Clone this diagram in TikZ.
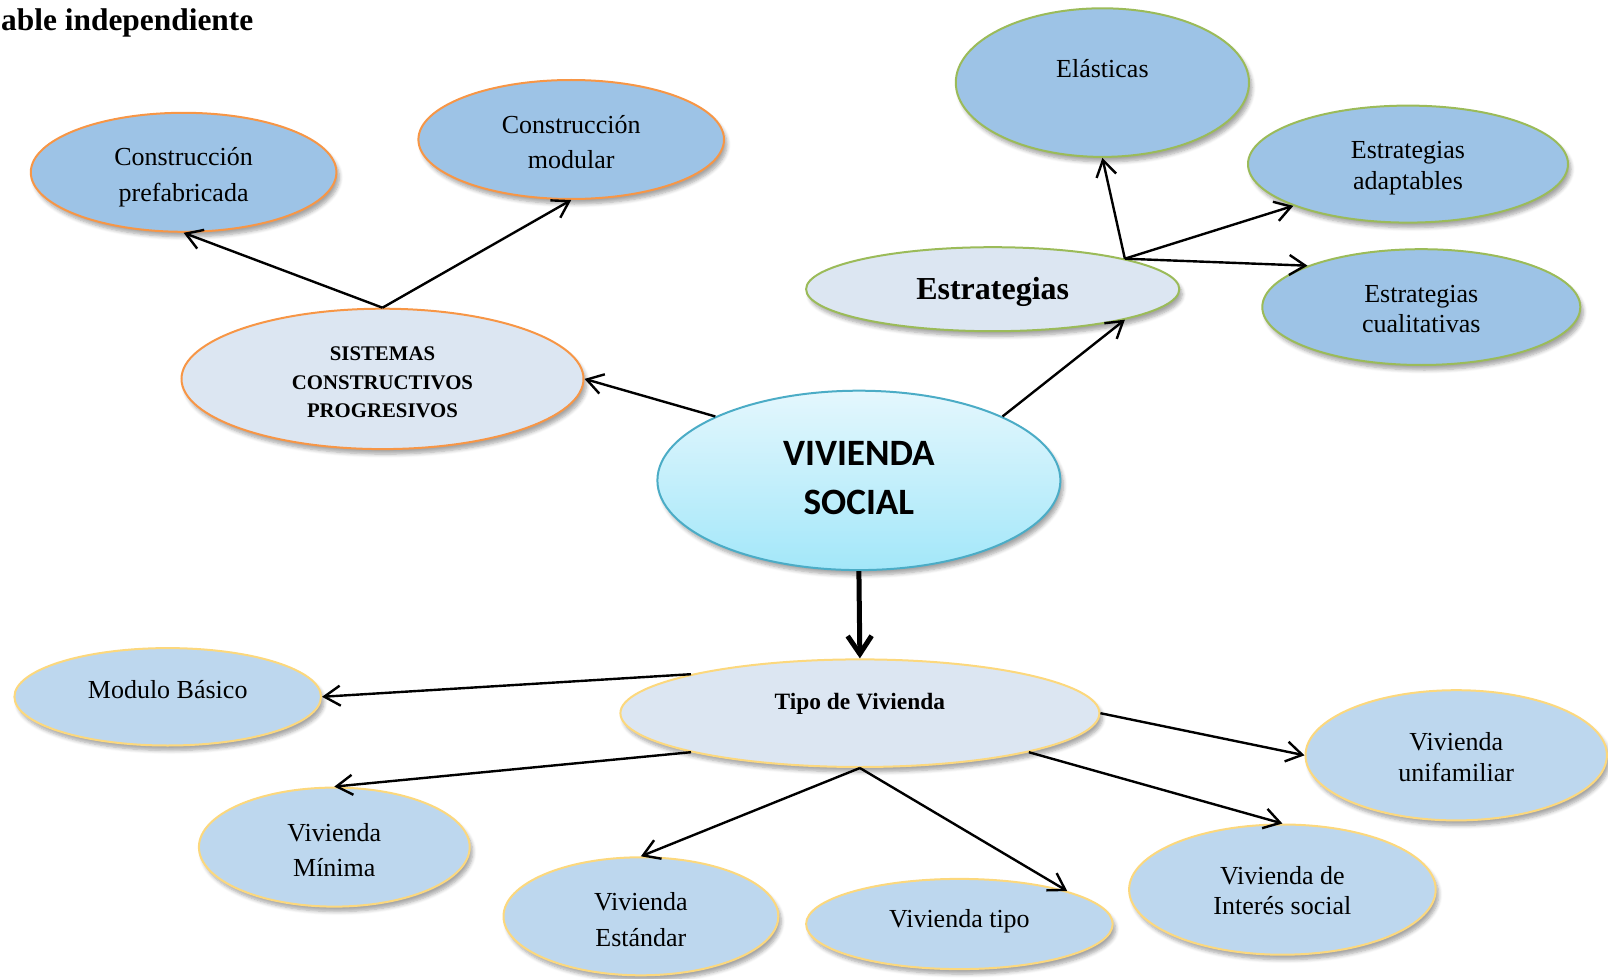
\documentclass[tikz,border=0pt]{standalone}
\usepackage{fontspec}
\setmainfont{Liberation Serif}
\newfontfamily\calibrifont{Carlito}
\usetikzlibrary{shapes.geometric,arrows.meta,shadows.blur}
\definecolor{bordeNaranja}{RGB}{247,150,70}
\definecolor{bordeVerde}{RGB}{155,187,89}
\definecolor{bordeOro}{RGB}{252,216,125}
\definecolor{bordeCian}{RGB}{75,172,198}
\definecolor{azulOscuro}{RGB}{157,195,230}
\definecolor{azulClaro}{RGB}{220,230,242}
\definecolor{azulMedio}{RGB}{189,215,238}
\definecolor{cianArriba}{RGB}{228,247,253}
\definecolor{cianAbajo}{RGB}{163,231,249}
\tikzset{
  elipse/.style={ellipse,inner sep=0pt,line width=1pt,
    blur shadow={shadow xshift=1.5pt,shadow yshift=-2.5pt,shadow blur steps=6,shadow opacity=35}},
  naranja/.style={elipse,draw=bordeNaranja,fill=azulOscuro},
  naranjaCl/.style={elipse,draw=bordeNaranja,fill=azulClaro},
  verde/.style={elipse,draw=bordeVerde,fill=azulOscuro},
  verdeCl/.style={elipse,draw=bordeVerde,fill=azulClaro},
  oro/.style={elipse,draw=bordeOro,fill=azulMedio},
  oroCl/.style={elipse,draw=bordeOro,fill=azulClaro},
  txt/.style={align=center,font=\fontsize{13}{17.9}\selectfont},
  txtb/.style={align=center,font=\fontsize{13}{15.4}\selectfont},
}
\begin{document}
\begin{tikzpicture}[x=0.5pt,y=-0.5pt,line width=1.2pt,>={Straight Barb[length=8pt,width=10pt]}]
\useasboundingbox (0,0) rectangle (1608,979);

% Title (cut at the left border)
\node[anchor=base west,inner sep=0pt,font=\fontsize{15.7}{18}\bfseries\selectfont] (titulo) at (0,31) {able independiente};

% Centre
\node[elipse,draw=bordeCian,top color=cianArriba,bottom color=cianAbajo,
  minimum width=201.5pt,minimum height=89.7pt] (vs) at (858.9,480.4) {};
\node[align=center,font=\calibrifont\fontsize{18.6}{24.6}\bfseries\selectfont] (vs-t) at ([yshift=1pt]vs.center) {VIVIENDA\\SOCIAL};

% Sistemas constructivos progresivos
\node[naranjaCl,minimum width=201pt,minimum height=70.2pt] (sis) at (382.5,378.9) {};
\node[align=center,font=\fontsize{10.4}{14.3}\bfseries\selectfont] (sis-t) at ([yshift=-1.8pt]sis.center) {SISTEMAS\\CONSTRUCTIVOS\\PROGRESIVOS};
\node[naranja,minimum width=152.8pt,minimum height=59.5pt] (pref) at (183.6,172.3) {};
\node[txt] (pref-t) at ([yshift=-2.3pt]pref.center) {Construcción\\prefabricada};
\node[naranja,minimum width=152.8pt,minimum height=59.5pt] (mod) at (571.2,139.5) {};
\node[txt] (mod-t) at ([yshift=-1.3pt]mod.center) {Construcción\\modular};
\draw[->] (sis.north) to (pref.south);
\draw[->] (sis.north) to (mod.south);
\draw[->] (vs.156) to (sis.east);

% Estrategias
\node[verdeCl,minimum width=186.6pt,minimum height=42pt] (est) at (992.7,289.2) {};
\node[font=\fontsize{16}{18}\bfseries\selectfont] (est-t) at ([yshift=-1.5pt]est.center) {Estrategias};
\node[verde,minimum width=146.6pt,minimum height=74.3pt] (elas) at (1102.4,82.6) {};
\node[txt] (elas-t) at ([yshift=7pt]elas.center) {Elásticas};
\node[verde,minimum width=160pt,minimum height=58.5pt] (adap) at (1408,164.1) {};
\node[txtb] (adap-t) at ([yshift=-2pt]adap.center) {Estrategias\\adaptables};
\node[verde,minimum width=159pt,minimum height=57.9pt] (cual) at (1421.3,307.1) {};
\node[txtb] (cual-t) at ([yshift=-1pt]cual.center) {Estrategias\\cualitativas};
\draw[->] (vs.24) to (est.-13);
\draw[->] (est.13) to (elas.south);
\draw[->] (est.13) to (adap.200);
\draw[->] (est.13) to (cual.160);

% Tipo de vivienda
\node[oroCl,minimum width=239.5pt,minimum height=53.8pt] (tipo) at (859.9,713.2) {};
\node[font=\fontsize{11.7}{14}\bfseries\selectfont] (tipo-t) at ([yshift=4.5pt]tipo.center) {Tipo de Vivienda};
\draw[->,line width=2.5pt,{Straight Barb[length=9pt,width=12pt]}-] (tipo.north) to (vs.south);

\node[oro,minimum width=153.3pt,minimum height=48.7pt] (modb) at (167.7,696.8) {};
\node[txt] (modb-t) at ([yshift=3.5pt]modb.center) {Modulo Básico};
\node[oro,minimum width=135.4pt,minimum height=59.5pt] (vmin) at (334.3,847.1) {};
\node[txt] (vmin-t) at ([yshift=-1.5pt]vmin.center) {Vivienda\\Mínima};
\node[oro,minimum width=137.4pt,minimum height=59pt] (vest) at (640.9,916.3) {};
\node[txt] (vest-t) at ([yshift=-1.5pt]vest.center) {Vivienda\\Estándar};
\node[oro,minimum width=153.3pt,minimum height=45.1pt] (vtipo) at (959.4,924) {};
\node[txt] (vtipo-t) at ([yshift=1.5pt]vtipo.center) {Vivienda tipo};
\node[oro,minimum width=153.3pt,minimum height=65.1pt] (vint) at (1282.4,889.6) {};
\node[txtb] (vint-t) at ([yshift=-0.5pt]vint.center) {Vivienda de\\Interés social};
\node[oro,minimum width=150.7pt,minimum height=65.1pt] (vuni) at (1456.2,755.3) {};
\node[txtb] (vuni-t) at ([yshift=-1pt]vuni.center) {Vivienda\\unifamiliar};
\draw[->] (tipo.167) to (modb.east);
\draw[->] (tipo.193) to (vmin.north);
\draw[->] (tipo.south) to (vest.north);
\draw[->] (tipo.south) to (vtipo.17);
\draw[->] (tipo.-13) to (vint.north);
\draw[->] (tipo.east) to (vuni.west);
\end{tikzpicture}
\end{document}
